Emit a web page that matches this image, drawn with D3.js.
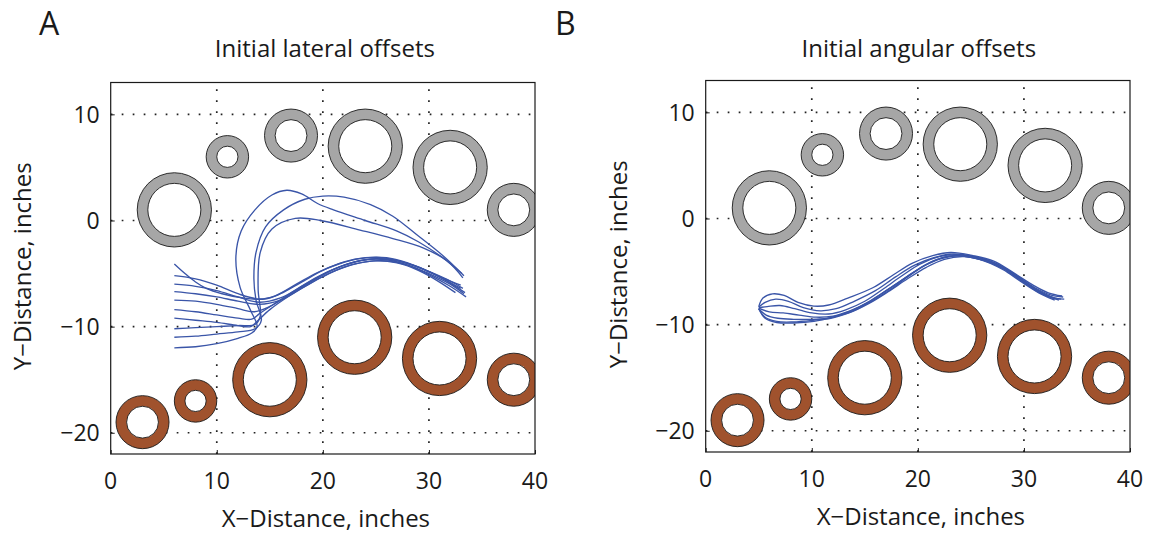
<!DOCTYPE html>
<html><head><meta charset="utf-8">
<script src="https://cdn.jsdelivr.net/npm/d3@7"></script>
<style>
body{margin:0;background:#fff}
svg{display:block}
text{font-family:"Open Sans",sans-serif;fill:#1a1a1a}
</style>
</head><body>
<svg id="c" width="1150" height="533"></svg>
<script>
// ---- data ----
const xTicks = [0, 10, 20, 30, 40];
const yTicks = [-20, -10, 0, 10];
const xTickLabels = ["0", "10", "20", "30", "40"];
const yTickLabels = ["\u221220", "\u221210", "0", "10"];
const xDomain = [0, 40];
const yDomain = [-22, 13];

const panelLetters = ["A", "B"];
const panelTitles = ["Initial lateral offsets", "Initial angular offsets"];
const xLabel = "X\u2212Distance, inches";
const yLabel = "Y\u2212Distance, inches";

// obstacles (centre x, centre y, outer radius, inner radius), inches
const grayCx = [6, 11, 17, 24, 32, 38];
const grayCy = [1, 6, 8, 7, 5, 1];
const grayR = [3.5, 2, 2.5, 3.5, 3.5, 2.5];
const grayRin = [2.5, 1, 1.5, 2.5, 2.5, 1.5];
const brownCx = [3, 8, 15, 23, 31, 38];
const brownCy = [-19, -17, -15, -11, -13, -15];
const brownR = [2.5, 2, 3.5, 3.5, 3.5, 2.5];
const brownRin = [1.5, 1, 2.5, 2.5, 2.5, 1.5];

// trajectories, panel A (initial lateral offsets)
const lateralTraj = [
  [[6,-4.1],[7,-5.0],[8,-5.8],[9,-6.4],[10.5,-6.9],[12.5,-7.3],[14.5,-7.4],[16,-6.9],[18,-5.8],[20,-4.7],[22,-3.9],[24,-3.5],[26,-3.5],[28,-4.0],[30,-4.8],[32,-5.7],[33.2,-6.4]],
  [[6,-5.2],[8,-5.5],[10,-6.1],[12,-6.9],[14,-7.4],[15.5,-7.1],[17.5,-6.0],[19.5,-4.9],[21.5,-4.1],[23.5,-3.6],[25.5,-3.5],[27.5,-3.9],[29.5,-4.6],[31.5,-5.6],[33.4,-6.8]],
  [[6,-6.0],[8,-6.2],[10,-6.6],[12,-7.2],[14,-7.7],[16,-7.3],[18,-6.2],[20,-5.1],[22,-4.2],[24,-3.7],[26,-3.7],[28,-4.2],[30,-5.1],[32,-6.2],[33.5,-7.2]],
  [[6,-6.7],[8,-6.9],[10,-7.2],[12,-7.6],[14,-7.9],[16,-7.5],[18,-6.4],[20,-5.3],[22,-4.4],[24,-3.9],[26,-3.8],[28,-4.2],[30,-5.0],[32,-6.0],[33.3,-6.9]],
  [[6,-7.5],[8,-7.6],[10,-7.9],[12,-8.3],[13.5,-8.6],[15,-8.1],[17,-6.9],[19,-5.7],[21,-4.6],[23,-3.9],[25,-3.6],[27,-3.8],[29,-4.4],[31,-5.3],[33,-6.4]],
  [[6,-8.4],[8,-8.6],[10,-8.9],[12,-9.2],[13.3,-9.3],[14,-8.8],[15.5,-7.8],[17.5,-6.5],[19.5,-5.3],[21.5,-4.4],[23.5,-3.8],[25.5,-3.6],[27.5,-3.9],[29.5,-4.6],[31.5,-5.5],[33,-6.1]],
  [[6,-9.2],[8,-9.4],[10,-9.6],[12,-9.9],[13.2,-10.0],[13.8,-9.5],[15,-8.4],[17,-7.0],[19,-5.8],[21,-4.8],[23,-4.1],[25,-3.8],[27,-4.0],[29,-4.7],[31,-5.8],[32.5,-6.8]],
  [[6,-10.2],[8,-10.1],[10,-10.0],[12,-9.9],[13.6,-9.8],[14.1,-9.0],[13.9,-6.5],[14.1,-3.0],[15.2,-0.8],[17.4,0.2],[19.8,0.0],[23.5,-0.9],[26.6,-1.7],[29.5,-2.6],[31.7,-3.8],[33.2,-5.4]],
  [[6,-11.0],[8,-10.9],[10,-10.7],[12,-10.5],[13.6,-10.2],[14.2,-9.4],[13.7,-7.5],[13.5,-5.5],[13.7,-3.0],[14.6,-0.6],[16.3,1.0],[18.3,2.0],[20,2.3],[22,2.2],[24.5,1.5],[26.6,0.4],[28.8,-1.3],[31.3,-3.3],[33.3,-5.2]],
  [[6,-12.0],[8,-11.9],[10,-11.6],[12,-11.1],[13.3,-10.6],[13.8,-10.0],[13.2,-8.5],[12.2,-6.3],[11.8,-3.5],[12.3,-1.0],[13.6,1.0],[15.2,2.4],[16.6,2.85],[18,2.5],[19.5,1.6],[21,1.0],[24,0.0],[27,-1.0],[29,-2.0],[31.3,-3.5],[33.1,-5.0]]
];

// trajectories, panel B (initial angular offsets)
const angularTraj = [
  [[5,-8.3],[5.4,-7.5],[6.3,-7.1],[7.4,-7.25],[8.7,-7.9],[10.2,-8.25],[11.6,-8.15],[13.4,-7.5],[15.8,-6.5],[17.7,-5.3],[19.5,-4.2],[21.4,-3.5],[23.1,-3.2],[25.2,-3.5],[27.1,-4.0],[29,-5.1],[30.9,-6.3],[32.3,-7.0],[33.6,-7.3]],
  [[5,-8.35],[5.6,-7.9],[6.6,-7.6],[7.8,-7.8],[9.2,-8.4],[10.8,-8.7],[12.3,-8.5],[14,-7.8],[16,-6.8],[17.9,-5.5],[19.7,-4.4],[21.5,-3.7],[23.2,-3.35],[25.4,-3.6],[27.3,-4.2],[29.2,-5.3],[31,-6.5],[32.5,-7.2],[33.7,-7.4]],
  [[5,-8.4],[5.8,-8.3],[7,-8.2],[8.4,-8.5],[10,-8.9],[11.6,-9.0],[13.2,-8.6],[15,-7.8],[16.8,-6.6],[18.5,-5.4],[20.2,-4.3],[22,-3.6],[23.6,-3.4],[25.6,-3.7],[27.5,-4.3],[29.4,-5.5],[31.2,-6.7],[32.6,-7.4],[33.5,-7.6]],
  [[5,-8.45],[6,-8.8],[7.3,-8.9],[8.8,-9.1],[10.4,-9.3],[12,-9.2],[13.6,-8.7],[15.3,-7.9],[17,-6.8],[18.8,-5.6],[20.5,-4.5],[22.3,-3.75],[24,-3.5],[25.9,-3.8],[27.8,-4.5],[29.6,-5.7],[31.3,-6.8],[32.8,-7.5],[33.3,-7.7]],
  [[5,-8.5],[5.7,-9.1],[6.8,-9.4],[8.3,-9.5],[10,-9.5],[11.8,-9.4],[13.5,-8.9],[15.4,-8.0],[17.2,-6.9],[19,-5.7],[20.8,-4.6],[22.5,-3.85],[24.3,-3.6],[26.2,-3.95],[28,-4.7],[29.8,-5.9],[31.5,-7.0],[33,-7.6]],
  [[5,-8.5],[5.6,-9.3],[6.7,-9.7],[8.2,-9.75],[10,-9.6],[11.9,-9.3],[13.7,-8.7],[15.6,-7.7],[17.5,-6.5],[19.4,-5.2],[21.2,-4.1],[23,-3.55],[25.3,-3.7],[27.5,-4.4],[29.5,-5.6],[31.3,-6.8],[32.9,-7.5],[33.8,-7.6]],
  [[5,-8.5],[5.6,-9.4],[6.7,-9.8],[8.3,-9.85],[10.2,-9.7],[12,-9.3],[13.9,-8.7],[15.8,-7.7],[17.7,-6.5],[19.6,-5.1],[21.5,-4.0],[23.3,-3.5],[25.8,-3.85],[28,-4.8],[29.8,-6.0],[31.4,-7.0],[32.9,-7.7]]
];

// ---- drawing ----
const svg = d3.select("#c");
const GRAY = "#a6a6a6", BROWN = "#a0522d", BLUE = "#3a55a8";

function drawPanel(idx, box, traj, deco) {
  const x = d3.scaleLinear().domain(xDomain).range([box.l, box.r]);
  const y = d3.scaleLinear().domain(yDomain).range([box.b, box.t]);
  const g = svg.append("g");
  const clipId = "clip" + idx;
  svg.append("clipPath").attr("id", clipId).append("rect")
    .attr("x", box.l).attr("y", box.t).attr("width", box.r - box.l).attr("height", box.b - box.t);

  // grid
  const grid = g.append("g").attr("stroke", "#222").attr("stroke-width", 1.7)
    .attr("stroke-dasharray", "1.7,9.3").attr("fill", "none");
  xTicks.slice(1, -1).forEach(v => grid.append("line")
    .attr("x1", x(v)).attr("x2", x(v)).attr("y1", box.b).attr("y2", box.t));
  yTicks.forEach(v => grid.append("line")
    .attr("y1", y(v)).attr("y2", y(v)).attr("x1", box.l).attr("x2", box.r));

  // obstacles
  const obs = g.append("g").attr("clip-path", `url(#${clipId})`);
  const pxPerUnit = x(1) - x(0);
  function rings(cx, cy, R, Rin, fill) {
    cx.forEach((c, i) => {
      obs.append("circle").attr("cx", x(c)).attr("cy", y(cy[i])).attr("r", R[i] * pxPerUnit)
        .attr("fill", fill).attr("stroke", "#1a1a1a").attr("stroke-width", 0.9);
      obs.append("circle").attr("cx", x(c)).attr("cy", y(cy[i])).attr("r", Rin[i] * pxPerUnit)
        .attr("fill", "#fff").attr("stroke", "#1a1a1a").attr("stroke-width", 0.9);
    });
  }
  rings(grayCx, grayCy, grayR, grayRin, GRAY);
  rings(brownCx, brownCy, brownR, brownRin, BROWN);

  // trajectories
  const line = d3.line().x(d => x(d[0])).y(d => y(d[1])).curve(d3.curveCatmullRom.alpha(0.5));
  g.append("g").attr("clip-path", `url(#${clipId})`).selectAll("path").data(traj).join("path")
    .attr("d", line).attr("fill", "none").attr("stroke", BLUE).attr("stroke-width", 1.35);

  // axes box
  g.append("rect").attr("x", box.l).attr("y", box.t).attr("width", box.r - box.l).attr("height", box.b - box.t)
    .attr("fill", "none").attr("stroke", "#1a1a1a").attr("stroke-width", 1.2);

  // ticks (inward) using d3 axes
  const tl = 4;
  const axB = g.append("g").attr("transform", `translate(0,${box.b})`)
    .call(d3.axisTop(x).tickValues(xTicks).tickSize(tl).tickFormat(""));
  const axL = g.append("g").attr("transform", `translate(${box.l},0)`)
    .call(d3.axisRight(y).tickValues(yTicks).tickSize(tl).tickFormat(""));
  [axB, axL].forEach(a => { a.select(".domain").remove(); a.selectAll("line").attr("stroke", "#1a1a1a"); });

  // tick labels
  g.append("g").selectAll("text").data(xTicks).join("text")
    .attr("x", d => x(d)).attr("y", box.b + 35).attr("text-anchor", "middle")
    .attr("font-size", 23).text((d, i) => xTickLabels[i]);
  g.append("g").selectAll("text").data(yTicks).join("text")
    .attr("x", box.l - 11).attr("y", d => y(d)).attr("dy", "0.36em").attr("text-anchor", "end")
    .attr("font-size", 23).text((d, i) => yTickLabels[i]);

  // titles & labels
  g.append("text").attr("x", (box.l + box.r) / 2 + deco.titleDx).attr("y", 57)
    .attr("text-anchor", "middle").attr("font-size", 24).text(panelTitles[idx]);
  g.append("text").attr("x", (box.l + box.r) / 2 + 3).attr("y", box.b + 73)
    .attr("text-anchor", "middle").attr("font-size", 24).text(xLabel);
  g.append("text").attr("transform", `translate(${deco.yLabX},${(box.t + box.b) / 2 - 2}) rotate(-90)`)
    .attr("text-anchor", "middle").attr("font-size", 24).text(yLabel);
  g.append("text").attr("x", deco.letterX).attr("y", 35).attr("font-size", 32).text(panelLetters[idx]);
}

drawPanel(0, {l: 110.7, r: 535, t: 82.5, b: 454}, lateralTraj, {titleDx: 2, yLabX: 31, letterX: 39});
drawPanel(1, {l: 705.7, r: 1130, t: 80.5, b: 452}, angularTraj, {titleDx: 1, yLabX: 627, letterX: 555});
</script>
</body></html>
